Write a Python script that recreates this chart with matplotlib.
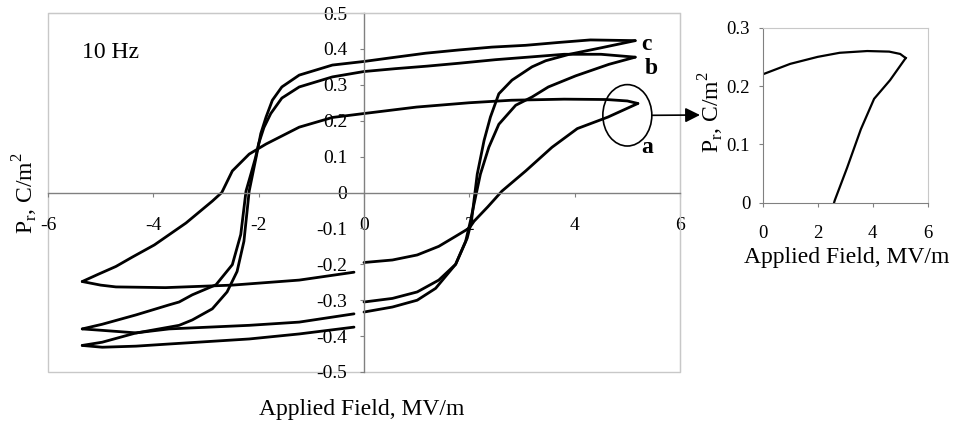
"""Ciclos de histerese P-E (10 Hz) com detalhe do ciclo a."""
import matplotlib

matplotlib.use("Agg")
import matplotlib.pyplot as plt
import numpy as np
from matplotlib.patches import Ellipse, Rectangle

plt.rcParams["font.family"] = ["Liberation Serif", "DejaVu Serif"]
plt.rcParams["mathtext.fontset"] = "custom"
plt.rcParams["mathtext.rm"] = "Liberation Serif"
plt.rcParams["axes.unicode_minus"] = False

nan = np.nan

# loop a -- upper branch (field decreasing) and lower branch (field increasing)
a_up_E = [5.2, 5.0, 4.6, 3.8, 2.8, 2.0, 1.0, 0.0, -0.6, -1.23, -1.86, -2.18, -2.5, -2.7,
          -2.88, -3.38, -3.98, -4.4, -4.71, -5.05, -5.35]
a_up_P = [0.248, 0.255, 0.259, 0.260, 0.257, 0.250, 0.238, 0.220, 0.209, 0.182, 0.135, 0.107,
          0.060, 0.0, -0.024, -0.085, -0.146, -0.18, -0.206, -0.228, -0.248]
a_lo_E = [-5.35, -5.0, -4.71, -3.77, -2.5, -1.23, -0.19, nan, 0.0, 0.54, 1.01, 1.42, 1.74, 2.0,
          2.09, 2.35, 2.62, 3.07, 3.57, 4.05, 4.63, 5.2]
a_lo_P = [-0.248, -0.258, -0.263, -0.265, -0.258, -0.244, -0.222, nan, -0.195, -0.188, -0.174,
          -0.150, -0.122, -0.099, -0.08, -0.04, 0.004, 0.06, 0.126, 0.178, 0.21, 0.248]

# loop b
b_up_E = [5.15, 4.5, 3.8, 3.2, 2.5, 1.8, 1.2, 0.6, 0.0, -0.6, -1.23, -1.56, -1.77, -1.9, -2.0,
          -2.06, -2.15, -2.24, -2.34, -2.5, -2.81, -3.26, -3.51, -3.7, -4.33, -4.97, -5.35]
b_up_P = [0.377, 0.385, 0.385, 0.378, 0.370, 0.360, 0.352, 0.345, 0.337, 0.322, 0.294, 0.263,
          0.220, 0.181, 0.136, 0.097, 0.050, 0.004, -0.117, -0.201, -0.257, -0.285, -0.305,
          -0.313, -0.341, -0.367, -0.38]
b_lo_E = [-5.35, -4.97, -4.33, -3.7, -2.18, -1.23, -0.19, nan, 0.0, 0.54, 1.01, 1.42, 1.74, 1.93,
          2.02, 2.21, 2.37, 2.56, 2.88, 3.19, 3.5, 4.02, 4.65, 5.15]
b_lo_P = [-0.38, -0.384, -0.391, -0.38, -0.37, -0.361, -0.338, nan, -0.305, -0.295, -0.277,
          -0.244, -0.2, -0.136, -0.08, 0.051, 0.126, 0.19, 0.243, 0.266, 0.294, 0.325, 0.357,
          0.377]

# loop c
c_up_E = [5.15, 4.3, 3.7, 3.07, 2.43, 1.8, 1.17, 0.5, 0.0, -0.6, -1.23, -1.56, -1.74, -1.86,
          -1.96, -2.05, -2.18, -2.28, -2.41, -2.6, -2.88, -3.26, -3.51, -4.35, -4.97, -5.35]
c_up_P = [0.423, 0.425, 0.418, 0.410, 0.405, 0.397, 0.388, 0.375, 0.365, 0.355, 0.327, 0.294,
          0.257, 0.210, 0.164, 0.097, 0.004, -0.136, -0.22, -0.277, -0.324, -0.355, -0.37,
          -0.392, -0.417, -0.426]
c_lo_E = [-5.35, -4.97, -4.33, -3.7, -2.18, -1.23, -0.19, nan, 0.0, 0.54, 1.01, 1.36, 1.74, 1.96,
          2.04, 2.15, 2.28, 2.4, 2.56, 2.81, 3.19, 3.45, 3.9, 4.5, 5.15]
c_lo_P = [-0.426, -0.431, -0.428, -0.422, -0.408, -0.394, -0.375, nan, -0.333, -0.319, -0.30,
          -0.267, -0.2, -0.127, -0.08, 0.051, 0.145, 0.21, 0.275, 0.313, 0.35, 0.367, 0.385,
          0.403, 0.423]

loop_names = ["a", "b", "c"]
label_E = [5.38, 5.45, 5.37]
label_P = [0.124, 0.345, 0.412]

main_xticks = [-6, -4, -2, 0, 2, 4, 6]
main_yticks = [-0.5, -0.4, -0.3, -0.2, -0.1, 0, 0.1, 0.2, 0.3, 0.4, 0.5]
inset_xticks = [0, 2, 4, 6]
inset_yticks = [0, 0.1, 0.2, 0.3]

FRAME = "#c8c8c8"
AXIS = "#808080"


def fmt(v):
    return "0" if v == 0 else f"{v:g}"


fig = plt.figure(figsize=(9.56, 4.25), dpi=100)

# ---- painel principal
ax = fig.add_axes([48 / 956, 53 / 425, 632 / 956, 359 / 425])
ax.set_xlim(-6, 6)
ax.set_ylim(-0.5, 0.5)
for E, P in [(a_up_E, a_up_P), (a_lo_E, a_lo_P), (b_up_E, b_up_P), (b_lo_E, b_lo_P),
             (c_up_E, c_up_P), (c_lo_E, c_lo_P)]:
    ax.plot(E, P, color="black", lw=2.0, solid_joinstyle="round", solid_capstyle="round")

ax.spines["left"].set_position(("data", 0))
ax.spines["bottom"].set_position(("data", 0))
for s in ("left", "bottom"):
    ax.spines[s].set_color(AXIS)
    ax.spines[s].set_linewidth(1.0)
for s in ("top", "right"):
    ax.spines[s].set_color(FRAME)
ax.add_patch(Rectangle((0, 0), 1, 1, transform=ax.transAxes, fill=False, ec=FRAME,
                       lw=1.0, clip_on=False, zorder=0))

ax.set_xticks(main_xticks)
ax.set_xticklabels([fmt(v) for v in main_xticks])
ax.set_yticks(main_yticks)
ax.set_yticklabels([fmt(v) for v in main_yticks])
ax.tick_params(axis="x", direction="out", length=3, color=AXIS, pad=15, labelsize=14)
ax.tick_params(axis="y", direction="out", length=3, color=AXIS, pad=9, labelsize=14)

ax.text(-5.35, 0.39, "10 Hz", fontsize=17, va="center", ha="left")
for name, E, P in zip(loop_names, label_E, label_P):
    ax.text(E, P, name, fontsize=17, fontweight="bold", ha="center", va="center")

ax.add_patch(Ellipse((5.0, 0.215), 0.93, 0.171, fill=False, ec="black", lw=1.2,
                     clip_on=False))
ax.annotate("", xy=(700 / 956, 310 / 425), xycoords="figure fraction",
            xytext=(5.465, 0.215), textcoords="data",
            arrowprops=dict(arrowstyle="-|>", color="black", lw=1.2, mutation_scale=22,
                            shrinkA=0, shrinkB=0))

fig.text(25 / 956, 0.545, r"P$_{\rm r}$, C/m$^{\rm 2}$", rotation=90, fontsize=17,
         ha="center", va="center")
fig.text(362 / 956, 15 / 425, "Applied Field, MV/m", fontsize=17, ha="center", va="center")

# ---- detalhe do ciclo a
axi = fig.add_axes([762.7 / 956, 222.3 / 425, 165 / 956, 175 / 425])
axi.plot(a_up_E, a_up_P, color="black", lw=1.6)
axi.plot(a_lo_E, a_lo_P, color="black", lw=1.6)
axi.set_xlim(0, 6)
axi.set_ylim(0, 0.3)
for s in ("left", "bottom"):
    axi.spines[s].set_color(AXIS)
for s in ("top", "right"):
    axi.spines[s].set_color(FRAME)
axi.set_xticks(inset_xticks)
axi.set_xticklabels([fmt(v) for v in inset_xticks])
axi.set_yticks(inset_yticks)
axi.set_yticklabels([fmt(v) for v in inset_yticks])
axi.tick_params(axis="x", direction="out", length=3, color=AXIS, pad=13, labelsize=13.5)
axi.tick_params(axis="y", direction="out", length=3, color=AXIS, pad=6, labelsize=13.5)

fig.text(711 / 956, (425 - 112) / 425, r"P$_{\rm r}$, C/m$^{\rm 2}$", rotation=90,
         fontsize=17, ha="center", va="center")
fig.text(847 / 956, (425 - 257) / 425, "Applied Field, MV/m", fontsize=17, ha="center",
         va="center")

fig.savefig("out.png", dpi=100)
